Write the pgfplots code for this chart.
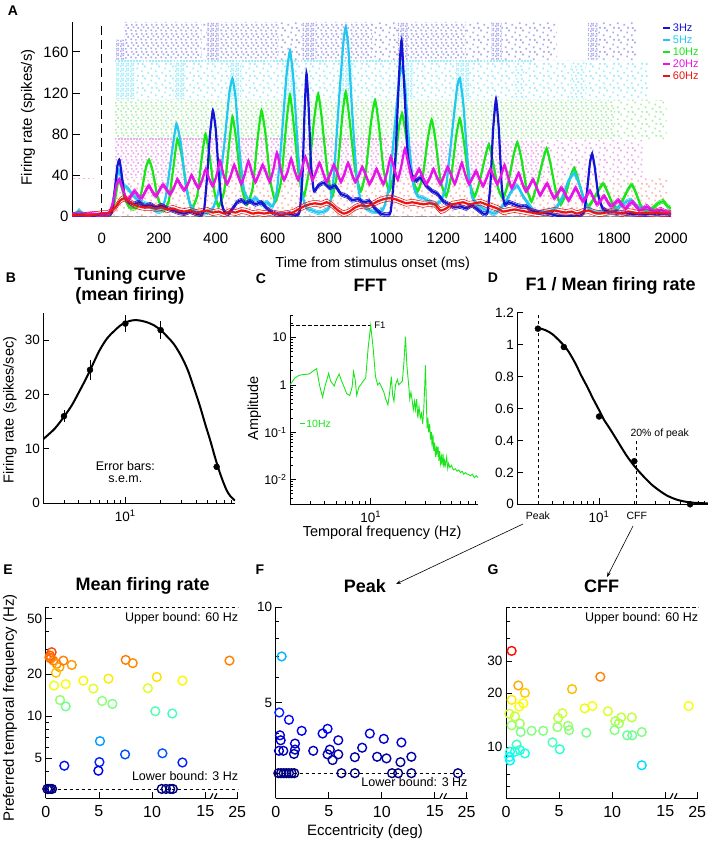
\documentclass[border=0pt]{standalone}
\usepackage{fontspec}
\setmainfont{Liberation Sans}
\usepackage{pgfplots}
\usepackage{pgfplotstable}
\pgfplotsset{compat=1.18}
\usetikzlibrary{patterns.meta,arrows.meta}
\newcommand{\fs}[1]{\fontsize{#1}{#1}\selectfont}

\definecolor{cthree}{RGB}{20,20,215}
\definecolor{cfive}{RGB}{35,200,240}
\definecolor{cten}{RGB}{25,230,25}
\definecolor{ctwenty}{RGB}{230,20,230}
\definecolor{csixty}{RGB}{235,20,20}
\definecolor{rthree}{RGB}{172,172,236}
\definecolor{rfive}{RGB}{160,236,250}
\definecolor{rten}{RGB}{170,238,170}
\definecolor{rtwenty}{RGB}{240,168,240}
\definecolor{rsixty}{RGB}{250,185,185}

\tikzdeclarepattern{name=rdense,type=uncolored,bounding box={(0pt,0pt) and (5pt,5pt)},tile size={(5pt,5pt)},
 code={\fill (0.2pt,0.2pt) rectangle ++(1.8pt,1.8pt); \fill (2.7pt,0.9pt) rectangle ++(1.8pt,1.8pt);
       \fill (1.1pt,2.9pt) rectangle ++(1.8pt,1.8pt); \fill (3.2pt,3.2pt) rectangle ++(1.6pt,1.6pt);}}
\tikzdeclarepattern{name=rmed,type=uncolored,bounding box={(0pt,0pt) and (10pt,9pt)},tile size={(10pt,9pt)},
 code={\fill (0.5pt,1pt) rectangle ++(1.8pt,1.8pt); \fill (5.5pt,0.3pt) rectangle ++(1.8pt,1.8pt);
       \fill (3pt,4.2pt) rectangle ++(1.8pt,1.8pt); \fill (8pt,3.5pt) rectangle ++(1.8pt,1.8pt);
       \fill (1.2pt,7pt) rectangle ++(1.8pt,1.8pt); \fill (6.3pt,6.8pt) rectangle ++(1.8pt,1.8pt);}}
\tikzdeclarepattern{name=rsparse,type=uncolored,bounding box={(0pt,0pt) and (14pt,12pt)},tile size={(14pt,12pt)},
 code={\fill (1pt,2pt) rectangle ++(1.8pt,1.8pt); \fill (8pt,0.5pt) rectangle ++(1.8pt,1.8pt);
       \fill (4.5pt,7pt) rectangle ++(1.8pt,1.8pt); \fill (11pt,5pt) rectangle ++(1.8pt,1.8pt);
       \fill (12pt,10pt) rectangle ++(1.8pt,1.8pt); \fill (2pt,9.8pt) rectangle ++(1.8pt,1.8pt);}}

\pgfplotsset{
 every axis/.append style={scale only axis, /pgf/number format/assume math mode=true,
   /pgf/number format/1000 sep={}, axis line style={line width=0.9pt},
   tick style={black, line width=0.8pt}, major tick length=6pt, minor tick length=3.5pt,
   tick label style={font=\fs{13.5}}, axis x line*=bottom, axis y line*=left,
   label style={font=\fs{14.5}}},
 psth/.style={smooth, tension=0.3, line width=2.2pt, forget plot},
 sem/.style={smooth, tension=0.3, line width=0.55pt, forget plot},
 circ/.style={scatter, only marks, mark=o, mark size=4.4pt, mark options={line width=1.4pt},
   point meta={ln(\thisrow{y})}, scatter/use mapped color={draw=mapped color}},
 ecc/.style={xmin=0, xmax=18.1, xtick={0,5,10,15,18}, xticklabels={0,5,10,15,25},
   xticklabel style={font=\fs{16}, yshift=-4pt}, colormap/jet, point meta min=1.0986, point meta max=3.912,
   title style={font=\bfseries\fs{18}, anchor=center}},
}

\begin{document}
\pgfplotstableread[row sep=\\]{t v\\
-105 1\\ -60 1\\ -20 1\\ 0 2\\ 20 2\\ 35 4\\ 45 25\\ 55 50\\ 62 55\\ 70 40\\ 80 20\\ 95 14\\ 110 12\\ 130 14\\ 150 10\\ 170 12\\ 190 9\\ 210 11\\ 230 8\\ 250 6\\ 270 4\\ 290 3\\ 310 5\\ 330 3\\ 350 2\\ 360 8\\ 370 40\\ 380 80\\ 390 103\\ 400 85\\ 410 45\\ 420 15\\ 430 5\\ 445 3\\ 460 8\\ 475 14\\ 490 16\\ 505 13\\ 520 15\\ 540 12\\ 560 14\\ 580 8\\ 600 4\\ 620 2\\ 640 2\\ 660 3\\ 680 1\\ 695 5\\ 705 40\\ 712 100\\ 719 139\\ 726 110\\ 735 50\\ 745 25\\ 760 30\\ 780 33\\ 800 28\\ 820 30\\ 840 22\\ 860 20\\ 880 16\\ 900 17\\ 920 14\\ 940 15\\ 960 8\\ 980 3\\ 1000 2\\ 1015 5\\ 1030 50\\ 1045 140\\ 1053 171\\ 1062 130\\ 1075 60\\ 1090 40\\ 1105 35\\ 1120 38\\ 1140 30\\ 1160 25\\ 1180 22\\ 1200 15\\ 1220 12\\ 1240 9\\ 1260 10\\ 1280 8\\ 1300 11\\ 1320 7\\ 1340 3\\ 1355 4\\ 1365 30\\ 1375 85\\ 1385 114\\ 1395 85\\ 1405 30\\ 1415 12\\ 1430 14\\ 1450 12\\ 1470 10\\ 1490 10\\ 1510 6\\ 1540 4\\ 1570 3\\ 1600 1\\ 1640 0.5\\ 1680 1\\ 1695 5\\ 1705 25\\ 1715 52\\ 1723 61\\ 1732 48\\ 1745 20\\ 1760 8\\ 1780 5\\ 1810 4\\ 1850 3\\ 1900 2\\ 1950 3\\ 2000 2\\
}\tblthree
\pgfplotstableread[row sep=\\]{t v\\
-105 1\\ -90 3\\ -80 6\\ -70 3\\ -50 1\\ -20 1\\ 0 2\\ 30 3\\ 45 25\\ 58 45\\ 66 40\\ 78 30\\ 90 28\\ 105 22\\ 120 18\\ 140 14\\ 160 12\\ 180 8\\ 195 5\\ 210 6\\ 225 20\\ 245 60\\ 262 90\\ 278 70\\ 295 30\\ 310 12\\ 330 5\\ 350 3\\ 370 4\\ 390 8\\ 410 25\\ 430 70\\ 448 120\\ 459 134\\ 470 115\\ 485 60\\ 500 25\\ 520 15\\ 540 18\\ 560 12\\ 580 14\\ 600 10\\ 615 25\\ 630 70\\ 648 135\\ 661 161\\ 674 130\\ 690 60\\ 705 20\\ 720 8\\ 740 6\\ 760 4\\ 780 5\\ 800 10\\ 815 40\\ 835 120\\ 849 170\\ 857 184\\ 866 165\\ 880 100\\ 895 40\\ 910 15\\ 930 8\\ 950 5\\ 970 5\\ 990 8\\ 1010 30\\ 1030 90\\ 1045 135\\ 1055 145\\ 1066 125\\ 1080 70\\ 1095 30\\ 1110 20\\ 1130 18\\ 1150 15\\ 1170 12\\ 1190 15\\ 1210 30\\ 1230 80\\ 1248 125\\ 1258 134\\ 1270 110\\ 1285 55\\ 1300 20\\ 1320 12\\ 1340 8\\ 1360 5\\ 1380 3\\ 1400 8\\ 1420 15\\ 1440 25\\ 1460 30\\ 1480 20\\ 1500 12\\ 1520 5\\ 1540 4\\ 1560 5\\ 1580 6\\ 1600 10\\ 1620 20\\ 1640 35\\ 1660 42\\ 1680 30\\ 1700 12\\ 1720 6\\ 1740 4\\ 1760 5\\ 1780 4\\ 1800 6\\ 1820 10\\ 1840 14\\ 1860 16\\ 1880 10\\ 1900 8\\ 1930 6\\ 1960 4\\ 2000 3\\
}\tblfive
\pgfplotstableread[row sep=\\]{t v\\
-105 0.5\\ -50 0.5\\ 0 1\\ 30 2\\ 45 15\\ 58 35\\ 68 30\\ 80 18\\ 95 10\\ 110 8\\ 125 10\\ 140 25\\ 155 48\\ 166 55\\ 178 45\\ 195 20\\ 215 6\\ 235 15\\ 250 45\\ 265 75\\ 280 60\\ 300 25\\ 315 8\\ 335 20\\ 350 55\\ 364 80\\ 378 60\\ 395 25\\ 410 10\\ 430 25\\ 447 70\\ 459 97\\ 472 75\\ 490 30\\ 510 12\\ 530 28\\ 547 75\\ 561 103\\ 575 80\\ 592 35\\ 610 15\\ 630 35\\ 648 90\\ 661 118\\ 674 90\\ 692 40\\ 710 20\\ 728 45\\ 746 95\\ 760 119\\ 773 95\\ 792 45\\ 810 20\\ 828 45\\ 845 98\\ 857 121\\ 870 95\\ 890 45\\ 910 25\\ 928 45\\ 945 90\\ 960 113\\ 973 90\\ 990 45\\ 1010 25\\ 1028 45\\ 1043 85\\ 1055 100\\ 1068 80\\ 1088 40\\ 1110 25\\ 1128 40\\ 1145 75\\ 1159 94\\ 1172 75\\ 1190 35\\ 1210 20\\ 1228 40\\ 1245 78\\ 1258 95\\ 1271 75\\ 1290 35\\ 1310 20\\ 1328 35\\ 1347 58\\ 1360 70\\ 1373 55\\ 1392 28\\ 1410 18\\ 1428 33\\ 1447 60\\ 1460 72\\ 1473 58\\ 1492 28\\ 1510 15\\ 1528 30\\ 1550 55\\ 1563 66\\ 1576 52\\ 1595 25\\ 1612 12\\ 1630 22\\ 1648 40\\ 1660 47\\ 1672 38\\ 1692 18\\ 1710 10\\ 1730 18\\ 1750 28\\ 1762 32\\ 1774 26\\ 1795 12\\ 1812 8\\ 1832 17\\ 1850 27\\ 1862 31\\ 1874 25\\ 1895 10\\ 1915 5\\ 1935 8\\ 1955 13\\ 1973 15\\ 1988 10\\ 2000 8\\
}\tblten
\pgfplotstableread[row sep=\\]{t v\\
-105 2\\ -60 2\\ -30 3\\ 0 2\\ 25 3\\ 40 15\\ 52 32\\ 62 36\\ 72 28\\ 88 16\\ 102 20\\ 115 25\\ 128 20\\ 140 18\\ 152 24\\ 165 30\\ 178 24\\ 190 20\\ 203 26\\ 215 31\\ 228 26\\ 240 22\\ 253 28\\ 265 36\\ 278 30\\ 290 26\\ 303 32\\ 315 40\\ 328 33\\ 340 28\\ 353 36\\ 365 46\\ 378 36\\ 390 30\\ 403 40\\ 415 54\\ 428 40\\ 440 32\\ 453 40\\ 465 50\\ 478 40\\ 490 32\\ 503 42\\ 515 54\\ 528 42\\ 540 34\\ 553 42\\ 565 50\\ 578 42\\ 590 34\\ 603 46\\ 615 62\\ 628 46\\ 640 36\\ 653 44\\ 665 56\\ 678 44\\ 690 36\\ 703 46\\ 715 58\\ 728 46\\ 740 36\\ 753 44\\ 765 52\\ 778 42\\ 790 34\\ 803 42\\ 815 50\\ 828 42\\ 840 34\\ 853 42\\ 865 52\\ 878 42\\ 890 34\\ 903 40\\ 915 48\\ 928 40\\ 940 32\\ 953 38\\ 965 46\\ 978 38\\ 990 32\\ 1003 44\\ 1015 58\\ 1028 46\\ 1040 36\\ 1053 50\\ 1065 66\\ 1078 50\\ 1090 36\\ 1103 40\\ 1115 46\\ 1128 38\\ 1140 32\\ 1153 38\\ 1165 46\\ 1178 38\\ 1190 32\\ 1203 40\\ 1215 48\\ 1228 40\\ 1240 32\\ 1253 42\\ 1265 52\\ 1278 40\\ 1290 32\\ 1303 38\\ 1315 44\\ 1328 36\\ 1340 30\\ 1353 38\\ 1365 46\\ 1378 38\\ 1390 32\\ 1403 40\\ 1415 50\\ 1428 38\\ 1440 28\\ 1453 35\\ 1465 42\\ 1478 32\\ 1490 25\\ 1503 30\\ 1515 36\\ 1528 28\\ 1540 21\\ 1553 27\\ 1565 32\\ 1578 24\\ 1590 18\\ 1603 23\\ 1615 28\\ 1628 22\\ 1640 16\\ 1653 22\\ 1665 28\\ 1678 21\\ 1690 15\\ 1703 20\\ 1715 25\\ 1728 18\\ 1740 12\\ 1753 16\\ 1765 20\\ 1778 14\\ 1790 10\\ 1803 13\\ 1815 16\\ 1828 11\\ 1840 8\\ 1853 12\\ 1865 14\\ 1878 10\\ 1890 6\\ 1903 8\\ 1915 10\\ 1928 7\\ 1940 5\\ 1953 6\\ 1965 7\\ 1978 5\\ 2000 4\\
}\tbltwenty
\pgfplotstableread[row sep=\\]{t v\\
-105 1\\ -80 2\\ -50 1\\ -20 2\\ 0 3\\ 20 3\\ 35 6\\ 50 10\\ 65 16\\ 80 18\\ 95 15\\ 110 12\\ 130 10\\ 150 9\\ 170 9\\ 190 8\\ 210 9\\ 230 7\\ 250 8\\ 270 6\\ 290 5\\ 310 6\\ 330 4\\ 350 5\\ 370 6\\ 390 4\\ 410 5\\ 430 3\\ 450 5\\ 470 4\\ 490 6\\ 510 5\\ 530 3\\ 550 4\\ 570 3\\ 590 4\\ 610 3\\ 630 2\\ 650 3\\ 670 4\\ 690 7\\ 710 10\\ 730 12\\ 750 13\\ 770 12\\ 790 14\\ 810 11\\ 830 6\\ 850 3\\ 870 5\\ 890 9\\ 910 11\\ 930 10\\ 950 12\\ 970 15\\ 990 17\\ 1010 18\\ 1030 17\\ 1050 15\\ 1070 13\\ 1090 14\\ 1110 13\\ 1130 12\\ 1150 13\\ 1170 12\\ 1190 6\\ 1210 8\\ 1230 12\\ 1250 13\\ 1270 14\\ 1290 12\\ 1310 13\\ 1330 14\\ 1350 12\\ 1370 10\\ 1390 8\\ 1410 5\\ 1430 6\\ 1450 7\\ 1470 6\\ 1490 5\\ 1510 4\\ 1530 3\\ 1550 4\\ 1570 5\\ 1590 6\\ 1610 5\\ 1630 4\\ 1650 5\\ 1670 3\\ 1690 5\\ 1710 6\\ 1730 4\\ 1750 3\\ 1770 4\\ 1790 5\\ 1810 4\\ 1830 3\\ 1850 5\\ 1870 4\\ 1890 3\\ 1910 4\\ 1930 3\\ 1950 4\\ 1970 3\\ 2000 3\\
}\tblsixty

\begin{tikzpicture}
\path[use as bounding box] (0pt,0pt) rectangle (713pt,-842pt);

%================ A =================
\begin{axis}[at={(72pt,-216.7pt)}, anchor=south west, width=599pt, height=194.7pt,
 xmin=-105, xmax=2000, ymin=0, ymax=189,
 x axis line style={black!45, line width=1.3pt},
 xtick={0,200,...,2000}, ytick={0,40,...,160},
 xtick style={draw=none}, major tick length=8pt,
 tick label style={font=\fs{15}}, xticklabel style={yshift=-13pt},
 xlabel={Time from stimulus onset (ms)}, ylabel={Firing rate (spikes/s)},
 xlabel style={font=\fs{14.5}, at={(axis description cs:0.502,-0.24)}, anchor=center},
 ylabel style={font=\fs{15}, at={(axis description cs:-0.0735,0.51)}, anchor=center},
 legend style={at={(0.985,1.0)}, anchor=north west, draw=none, fill=none, font=\fs{11},
   row sep=0.5pt, inner sep=0pt, nodes={inner sep=1.5pt, text height=8pt, text depth=0.5pt}},
 legend cell align=left,
 legend image code/.code={\draw[#1, line width=2.2pt] (0pt,0pt) -- (7pt,0pt);},
]
% raster: 3 Hz
\addplot[draw=none, pattern=rdense, pattern color=rthree, forget plot] coordinates {(50,152)(50,172)(78,172)(78,152)(370,152)(370,189)(410,189)(410,152)(705,152)(705,189)(750,189)(750,152)(1040,152)(1040,189)(1075,189)(1075,152)(1370,152)(1370,189)(1405,189)(1405,152)(1708,152)(1708,189)(1742,189)(1742,152)} -- cycle;
\addplot[draw=none, pattern=rmed, pattern color=rthree, forget plot] coordinates {(78,152)(78,189)(350,189)(350,152)(410,152)(410,189)(620,189)(620,152)(750,152)(750,189)(950,189)(950,152)(1075,152)(1075,189)(1280,189)(1280,152)} -- cycle;
\addplot[draw=none, pattern=rsparse, pattern color=rthree, forget plot] coordinates {(350,152)(350,189)(370,189)(370,152)(620,152)(620,189)(705,189)(705,152)(950,152)(950,189)(1040,189)(1040,152)(1280,152)(1280,189)(1370,189)(1370,152)(1405,152)(1405,189)(1600,189)(1600,152)(1742,152)(1742,189)(1880,189)(1880,152)} -- cycle;
% raster: 5 Hz
\addplot[draw=none, pattern=rdense, pattern color=rfive, forget plot] coordinates {(50,114)(50,150)(115,150)(115,114)(252,114)(252,150)(290,150)(290,114)(447,114)(447,150)(490,150)(490,114)(643,114)(643,150)(678,150)(678,114)(843,114)(843,150)(880,150)(880,114)(1040,114)(1040,150)(1092,150)(1092,114)(1245,114)(1245,150)(1290,150)(1290,114)} -- cycle;
\addplot[draw=none, pattern=rmed, pattern color=rfive, forget plot] coordinates {(1447,114)(1447,150)(1485,150)(1485,114)(1650,114)(1650,150)(1700,150)(1700,114)} -- cycle;
\addplot[draw=none, pattern=rsparse, pattern color=rfive, forget plot] coordinates {(115,114)(115,150)(252,150)(252,114)(290,114)(290,150)(447,150)(447,114)(490,114)(490,150)(643,150)(643,114)(678,114)(678,150)(843,150)(843,114)(880,114)(880,150)(1040,150)(1040,114)(1092,114)(1092,150)(1245,150)(1245,114)(1290,114)(1290,150)(1447,150)(1447,114)(1485,114)(1485,150)(1650,150)(1650,114)(1700,114)(1700,150)(1920,150)(1920,114)} -- cycle;
\addplot[rfive, line width=1.8pt, dash pattern=on 1.8pt off 1.3pt, forget plot] coordinates {(45,150.8)(1510,150.8)};
% raster: 10 Hz
\addplot[draw=none, pattern=rmed, pattern color=rten, forget plot] coordinates {(45,76)(45,113)(1800,113)(1800,76)} -- cycle;
\addplot[draw=none, pattern=rsparse, pattern color=rten, forget plot] coordinates {(1800,76)(1800,113)(1985,113)(1985,76)} -- cycle;
% raster: 20 Hz
\addplot[draw=none, pattern=rmed, pattern color=rtwenty, forget plot] coordinates {(45,38)(45,74)(1550,74)(1550,38)} -- cycle;
\addplot[draw=none, pattern=rsparse, pattern color=rtwenty, forget plot] coordinates {(1550,38)(1550,74)(1900,74)(1900,38)} -- cycle;
\addplot[rtwenty, line width=1.8pt, dash pattern=on 1.8pt off 1.3pt, forget plot] coordinates {(45,75.5)(1000,75.5)};
% raster: 60 Hz
\addplot[draw=none, pattern=rsparse, pattern color=rsixty, forget plot] coordinates {(40,0)(40,37)(1990,37)(1990,0)} -- cycle;
\addplot[rsixty, line width=1.8pt, dash pattern=on 1.8pt off 3pt, forget plot] coordinates {(-100,37)(-30,37)};
% onset
\addplot[black, line width=1pt, dash pattern=on 9pt off 5pt, forget plot] coordinates {(0,0)(0,189)};
% PSTHs
\addplot[cten, psth] table {\tblten};
\addplot[cten, sem, yshift=2pt] table {\tblten};
\addplot[cten, sem, yshift=-2pt] table {\tblten};
\addplot[cfive, psth] table {\tblfive};
\addplot[cfive, sem, yshift=2pt] table {\tblfive};
\addplot[cfive, sem, yshift=-2pt] table {\tblfive};
\addplot[cthree, psth] table {\tblthree};
\addplot[cthree, sem, yshift=2pt] table {\tblthree};
\addplot[cthree, sem, yshift=-2pt] table {\tblthree};
\addplot[ctwenty, psth] table {\tbltwenty};
\addplot[ctwenty, sem, yshift=2.2pt] table {\tbltwenty};
\addplot[ctwenty, sem, yshift=-2.2pt] table {\tbltwenty};
\addplot[csixty, psth] table {\tblsixty};
\addplot[csixty, sem, yshift=3pt] table {\tblsixty};
\addplot[csixty, sem, yshift=-3pt] table {\tblsixty};
\addlegendimage{cthree}\addlegendentry{\textcolor{cthree}{3Hz}}
\addlegendimage{cfive}\addlegendentry{\textcolor{cfive}{5Hz}}
\addlegendimage{cten}\addlegendentry{\textcolor{cten}{10Hz}}
\addlegendimage{ctwenty}\addlegendentry{\textcolor{ctwenty}{20Hz}}
\addlegendimage{csixty}\addlegendentry{\textcolor{csixty}{60Hz}}
\end{axis}

%================ B =================
\begin{axis}[at={(43.3pt,-503.3pt)}, anchor=south west, width=191.7pt, height=190.6pt,
 xmode=log, xmin=2, xmax=86, ymin=0, ymax=35,
 xtick={10}, xticklabels={10\textsuperscript{1}}, minor xtick={3,4,5,6,7,8,9,20,30,40,50,60,70,80},
 ytick={0,10,20,30}, xticklabel style={yshift=-3pt},
 ylabel={Firing rate (spikes/sec)},
 ylabel style={at={(axis description cs:-0.174,0.49)}, anchor=center},
 title={Tuning curve\\(mean firing)},
 title style={font=\bfseries\fontsize{18}{20}\selectfont, align=center, at={(axis description cs:0.452,1.11)}, anchor=center},
]
\addplot[black, line width=2pt, smooth] table[row sep=\\] {f r\\ 2 11.8\\ 2.5 13.7\\ 3 15.9\\ 3.5 18\\ 4 20.3\\ 4.5 22.4\\ 5 24.4\\ 6 28\\ 7 30.3\\ 8 31.6\\ 9 32.6\\ 10 33.2\\ 11.5 33.6\\ 13 33.6\\ 15 33.3\\ 17.5 32.7\\ 20 31.8\\ 23 30.5\\ 26 29.2\\ 30 27\\ 34 24.5\\ 38 21.5\\ 43 18\\ 48 14.5\\ 53 11.5\\ 58 8.5\\ 63 6\\ 68 4\\ 73 2.4\\ 78 1.4\\ 86 0.5\\};
\addplot[black, only marks, mark=*, mark size=3pt, error bars/.cd, y dir=both, y explicit, error mark=none, error bar style={line width=0.9pt}]
 table[row sep=\\, x index=0, y index=1, y error index=2] {f r e\\ 3 16 1.1\\ 5 24.5 1.8\\ 10 33 1.6\\ 20 31.8 1.6\\ 60 6.7 0.6\\};
\node[align=center, font=\fs{12.5}] at (axis cs:10,5.7) {Error bars:\\s.e.m.};
\end{axis}

%================ C =================
\begin{axis}[at={(290pt,-504.3pt)}, anchor=south west, width=188pt, height=189.3pt,
 xmode=log, ymode=log, xmin=2, xmax=85, ymin=0.003, ymax=30,
 xtick={10}, xticklabels={10\textsuperscript{1}}, minor xtick={3,4,5,6,7,8,9,20,30,40,50,60,70,80},
 ytick={0.01,0.1,1,10}, yticklabels={10\textsuperscript{-2},10\textsuperscript{-1},1,10},
 minor ytick={0.004,0.005,0.006,0.007,0.008,0.009,0.02,0.03,0.04,0.05,0.06,0.07,0.08,0.09,0.2,0.3,0.4,0.5,0.6,0.7,0.8,0.9,2,3,4,5,6,7,8,9,20,30},
 xticklabel style={yshift=-3pt}, yticklabel style={font=\fs{12.5}},
 xlabel={Temporal frequency (Hz)}, ylabel={Amplitude},
 xlabel style={at={(axis description cs:0.49,-0.15)}, anchor=center},
 ylabel style={at={(axis description cs:-0.19,0.507)}, anchor=center},
 title={FFT}, title style={font=\bfseries\fs{18}, at={(axis description cs:0.426,1.123)}, anchor=center},
]
\addplot[black, line width=0.8pt, dash pattern=on 3.5pt off 2.5pt] coordinates {(2,18)(10,18)};
\addplot[cten, line width=0.9pt] table[row sep=\\] {f a\\ 2.0 1.0\\ 2.2 1.4\\ 2.41 1.6\\ 2.6 1.65\\ 2.94 1.7\\ 3.2 2.0\\ 3.4 2.2\\ 3.6 1.0\\ 3.83 0.55\\ 4.0 0.9\\ 4.32 1.75\\ 4.5 1.2\\ 4.83 0.95\\ 5.05 1.3\\ 5.33 1.7\\ 5.6 1.2\\ 5.89 0.9\\ 6.2 0.65\\ 6.59 0.6\\ 6.9 0.9\\ 7.1 1.9\\ 7.33 1.3\\ 7.57 0.6\\ 7.9 0.9\\ 8.2 1.0\\ 8.6 1.2\\ 9.05 1.4\\ 9.5 6\\ 10 18\\ 10.5 6\\ 11.0 1.5\\ 11.5 1.0\\ 11.95 1.1\\ 12.4 0.9\\ 13.0 0.7\\ 13.5 0.5\\ 14.1 0.38\\ 14.6 0.7\\ 15.1 1.5\\ 15.5 0.6\\ 15.9 0.45\\ 16.4 1.0\\ 17.0 1.3\\ 17.5 1.0\\ 18.1 1.1\\ 18.8 1.2\\ 19.4 3\\ 20.0 10.5\\ 20.6 2.5\\ 21.4 0.9\\ 21.8 0.5\\ 22.3 0.7\\ 22.8 0.5\\ 23.4 0.3\\ 24.0 0.45\\ 24.4 0.3\\ 25.0 0.5\\ 25.6 0.2\\ 26.2 0.35\\ 26.9 0.2\\ 27.5 0.25\\ 28.2 0.15\\ 28.8 0.3\\ 29.4 1.0\\ 29.8 2.6\\ 30.3 0.5\\ 30.8 0.12\\ 31.3 0.2\\ 31.8 0.1\\ 32.4 0.15\\ 33.0 0.07\\ 33.5 0.1\\ 34.0 0.05\\ 34.6 0.09\\ 35.2 0.04\\ 35.8 0.06\\ 36.5 0.03\\ 37.1 0.05\\ 37.6 0.035\\ 38.3 0.05\\ 39.0 0.025\\ 39.6 0.04\\ 40.3 0.022\\ 41.0 0.03\\ 41.5 0.02\\ 42.3 0.035\\ 43.0 0.018\\ 43.6 0.025\\ 44.3 0.02\\ 45.5 0.03\\ 46.5 0.017\\ 47.3 0.022\\ 48.5 0.018\\ 50 0.02\\ 52 0.016\\ 54 0.017\\ 56 0.015\\ 58 0.016\\ 60 0.014\\ 62 0.015\\ 64 0.013\\ 66 0.014\\ 68 0.013\\ 70 0.013\\ 73 0.012\\ 76 0.013\\ 79 0.011\\ 82 0.012\\ 85 0.011\\};
\node[anchor=west, font=\fs{9.5}, inner sep=1pt] at (axis cs:10.5,18) {F1};
\node[anchor=west, font=\fs{10.5}, text=cten, inner sep=0pt] at (axis cs:2.45,0.15) {\rule[0.3em]{0.4em}{1.3pt}\,10Hz};
\end{axis}

%================ D =================
\begin{axis}[at={(517.3pt,-504.3pt)}, anchor=south west, width=190.5pt, height=191.6pt,
 xmode=log, xmin=2, xmax=85, ymin=0, ymax=1.2,
 xtick={10}, xticklabels={10\textsuperscript{1}}, minor xtick={3,4,5,6,7,8,9,20,30,40,50,60,70,80},
 ytick={0,0.2,0.4,0.6,0.8,1,1.2}, yticklabels={0,0.2,0.4,0.6,0.8,1,1.2},
 xticklabel style={yshift=-3pt},
 extra x ticks={3,21}, extra x tick labels={Peak,CFF},
 extra x tick style={major tick length=0pt, tick label style={font=\fs{10.5}, yshift=-1pt}},
 title={F1 / Mean firing rate}, title style={font=\bfseries\fs{18}, at={(axis description cs:0.49,1.11)}, anchor=center},
]
\addplot[black, line width=0.8pt, dash pattern=on 3.5pt off 2.5pt] coordinates {(3,0)(3,1.2)};
\addplot[black, line width=0.8pt, dash pattern=on 3.5pt off 2.5pt] coordinates {(21,0)(21,0.40)};
\addplot[black, line width=2pt, smooth] table[row sep=\\] {f r\\ 3 1.105\\ 3.5 1.09\\ 4 1.065\\ 4.5 1.03\\ 5 0.995\\ 5.5 0.955\\ 6.3 0.88\\ 7 0.81\\ 8 0.73\\ 8.76 0.67\\ 10 0.59\\ 11 0.53\\ 12.2 0.48\\ 14 0.41\\ 17 0.31\\ 20 0.24\\ 23.6 0.18\\ 28 0.125\\ 32.9 0.085\\ 38 0.055\\ 45.8 0.03\\ 55 0.016\\ 63.6 0.01\\ 75 0.007\\ 85 0.006\\};
\addplot[black, only marks, mark=*, mark size=3pt] table[row sep=\\] {f r\\ 3 1.1\\ 5 0.985\\ 10 0.55\\ 20 0.27\\ 60 0.0\\};
\node[font=\fs{10.5}] at (axis cs:33,0.44) {20\% of peak};
\end{axis}

%================ E =================
\begin{axis}[at={(45.7pt,-798.3pt)}, anchor=south west, width=192.6pt, height=191pt, ecc,
 ymode=log, ymin=2.57, ymax=60,
 ytick={5,10,20,50}, yticklabels={5,10,20,50}, minor ytick={4,6,7,8,9,30,40},
 ylabel={Preferred temporal frequency (Hz)},
 ylabel style={font=\fs{15}, at={(axis description cs:-0.185,0.473)}, anchor=center},
 title={Mean firing rate}, title style={at={(axis description cs:0.503,1.08)}},
]
\addplot[black, line width=0.8pt, dash pattern=on 3.5pt off 2.5pt] coordinates {(0,60)(18.1,60)};
\addplot[black, line width=0.8pt, dash pattern=on 3.5pt off 2.5pt] coordinates {(0,3)(18.1,3)};
\addplot[circ] table[row sep=\\] {x y\\ 0.40 27.1\\ 0.56 28.6\\ 0.35 26.3\\ 0.72 24.9\\ 0.47 25.8\\ 1.03 23.6\\ 1.29 22.4\\ 1.66 24.9\\ 2.45 23.2\\ 0.97 20.4\\ 0.78 16.5\\ 1.88 16.9\\ 1.35 13.0\\ 1.88 11.7\\ 3.54 17.9\\ 4.48 15.7\\ 5.90 18.5\\ 5.30 12.8\\ 6.27 12.2\\ 7.52 25.2\\ 8.18 23.9\\ 9.60 15.8\\ 10.44 19.0\\ 10.30 10.8\\ 11.90 10.4\\ 12.85 17.9\\ 17.27 24.9\\ 5.10 6.6\\ 5.05 4.67\\ 4.95 4.05\\ 1.75 4.4\\ 7.46 5.3\\ 10.97 5.4\\ 12.85 4.64\\ 0.15 3\\ 0.3 3\\ 0.45 3\\ 0.6 3\\ 10.9 3\\ 11.3 3\\ 11.7 3\\ 11.95 3\\};
\node[anchor=north east, font=\fs{12.5}, inner sep=0pt] at ([yshift=-5pt]rel axis cs:1,1) {Upper bound: 60 Hz};
\node[anchor=south east, font=\fs{12.5}, inner sep=0pt] at ([yshift=17pt]rel axis cs:1,0) {Lower bound: 3 Hz};
\fill[white] ([xshift=-2.5pt,yshift=-1.5pt]rel axis cs:0.866,0) rectangle ([xshift=2.5pt,yshift=1.5pt]rel axis cs:0.866,0);
\draw[line width=1.1pt] ([xshift=-4.5pt,yshift=-5pt]rel axis cs:0.866,0) -- ++(5pt,10pt);
\draw[line width=1.1pt] ([xshift=-0.5pt,yshift=-5pt]rel axis cs:0.866,0) -- ++(5pt,10pt);
\end{axis}

%================ F =================
\begin{axis}[at={(275.7pt,-798.3pt)}, anchor=south west, width=192pt, height=191pt, ecc,
 ymode=log, ymin=2.5, ymax=10,
 ytick={5,10}, yticklabels={5,10}, minor ytick={3,4,6,7,8,9},
 xlabel={Eccentricity (deg)},
 xlabel style={font=\fs{15}, at={(axis description cs:0.465,-0.175)}, anchor=center},
 title={Peak}, title style={at={(axis description cs:0.465,1.08)}},
]
\addplot[black, line width=0.8pt, dash pattern=on 3.5pt off 2.5pt] coordinates {(0,3)(18.1,3)};
\addplot[circ] table[row sep=\\] {x y\\ 0.56 7.0\\ 0.34 4.66\\ 1.25 4.42\\ 2.45 4.08\\ 0.40 3.95\\ 0.47 3.81\\ 0.31 3.53\\ 0.72 3.53\\ 1.82 3.72\\ 1.82 3.56\\ 1.72 3.45\\ 3.54 3.53\\ 4.42 4.00\\ 4.89 4.14\\ 5.90 3.81\\ 5.10 3.56\\ 4.89 3.44\\ 5.36 3.30\\ 5.90 3.44\\ 7.46 3.37\\ 8.15 3.61\\ 8.87 4.00\\ 9.56 3.38\\ 10.44 3.34\\ 10.19 3.85\\ 11.85 3.75\\ 11.76 3.25\\ 12.79 3.38\\ 0.25 3\\ 0.5 3\\ 0.75 3\\ 1.0 3\\ 1.25 3\\ 1.5 3\\ 1.75 3\\ 6.2 3\\ 7.46 3\\ 10.97 3\\ 11.54 3\\ 12.79 3\\ 17.18 3\\};
\node[anchor=north east, font=\fs{12.5}, inner sep=0pt] at ([yshift=21pt]rel axis cs:1,0) {Lower bound: 3 Hz};
\fill[white] ([xshift=-2.5pt,yshift=-1.5pt]rel axis cs:0.866,0) rectangle ([xshift=2.5pt,yshift=1.5pt]rel axis cs:0.866,0);
\draw[line width=1.1pt] ([xshift=-4.5pt,yshift=-5pt]rel axis cs:0.866,0) -- ++(5pt,10pt);
\draw[line width=1.1pt] ([xshift=-0.5pt,yshift=-5pt]rel axis cs:0.866,0) -- ++(5pt,10pt);
\end{axis}

%================ G =================
\begin{axis}[at={(506pt,-798.3pt)}, anchor=south west, width=192.3pt, height=191pt, ecc,
 ymode=log, ymin=5.17, ymax=60,
 ytick={10,20,30}, yticklabels={10,20,30}, minor ytick={6,7,8,9,40,50},
 title={CFF}, title style={at={(axis description cs:0.497,1.08)}},
]
\addplot[black, line width=0.8pt, dash pattern=on 3.5pt off 2.5pt] coordinates {(0,60)(18.1,60)};
\addplot[circ] table[row sep=\\] {x y\\ 0.53 34.3\\ 8.88 24.6\\ 1.16 22.0\\ 1.78 20.0\\ 0.53 18.3\\ 1.63 17.5\\ 1.25 16.8\\ 6.22 21.0\\ 0.31 15.3\\ 0.84 14.8\\ 0.53 13.2\\ 1.31 13.5\\ 1.38 12.1\\ 2.41 12.3\\ 3.5 12.3\\ 7.41 16.4\\ 8.13 16.9\\ 9.59 15.8\\ 5.31 15.4\\ 4.91 14.5\\ 4.84 12.9\\ 5.84 13.1\\ 5.94 12.4\\ 7.56 12.0\\ 10.28 13.9\\ 10.84 14.6\\ 10.63 13.5\\ 11.84 14.6\\ 10.22 12.4\\ 11.41 11.6\\ 11.88 11.6\\ 12.78 12.1\\ 17.19 16.9\\ 4.38 10.6\\ 5.06 9.7\\ 1.0 10.3\\ 0.38 9.4\\ 0.84 9.4\\ 0.31 8.8\\ 0.38 8.4\\ 1.78 9.2\\ 1.31 9.6\\ 12.78 7.9\\};
\node[anchor=north east, font=\fs{12.5}, inner sep=0pt] at ([yshift=-5pt]rel axis cs:1,1) {Upper bound: 60 Hz};
\fill[white] ([xshift=-2.5pt,yshift=-1.5pt]rel axis cs:0.866,0) rectangle ([xshift=2.5pt,yshift=1.5pt]rel axis cs:0.866,0);
\draw[line width=1.1pt] ([xshift=-4.5pt,yshift=-5pt]rel axis cs:0.866,0) -- ++(5pt,10pt);
\draw[line width=1.1pt] ([xshift=-0.5pt,yshift=-5pt]rel axis cs:0.866,0) -- ++(5pt,10pt);
\end{axis}

% panel letters
\node[font=\bfseries\fs{14}] at (13pt,-11pt) {A};
\node[font=\bfseries\fs{14}] at (11pt,-278pt) {B};
\node[font=\bfseries\fs{14}] at (261pt,-279pt) {C};
\node[font=\bfseries\fs{14}] at (493pt,-277.5pt) {D};
\node[font=\bfseries\fs{14}] at (8pt,-570pt) {E};
\node[font=\bfseries\fs{14}] at (260pt,-570pt) {F};
\node[font=\bfseries\fs{14}] at (493pt,-570pt) {G};
% arrows
\draw[-{Stealth[length=5pt,width=3.5pt]}, line width=0.6pt] (523pt,-524pt) -- (396pt,-584pt);
\draw[-{Stealth[length=5pt,width=3.5pt]}, line width=0.6pt] (633pt,-526pt) -- (607pt,-577pt);
\end{tikzpicture}
\end{document}
